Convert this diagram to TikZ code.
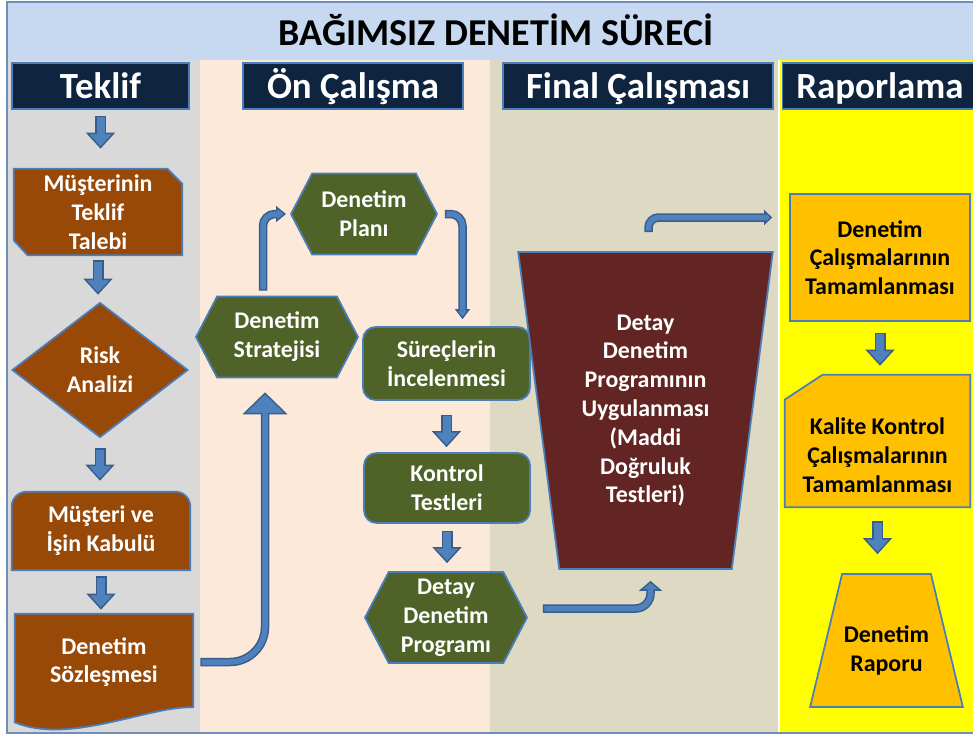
\documentclass[tikz,border=0pt]{standalone}
\usepackage{fontspec}
\setmainfont{Carlito}
\usepackage{tikz}
\usetikzlibrary{positioning, arrows.meta, calc, backgrounds, shapes.geometric, shapes.symbols}
\definecolor{navy}{HTML}{0F243E}
\definecolor{hdline}{HTML}{4A7EBB}
\definecolor{shapeline}{HTML}{4A7EBB}
\definecolor{brownfill}{HTML}{984807}
\definecolor{greenfill}{HTML}{4F6228}
\definecolor{redfill}{HTML}{632523}
\definecolor{orangefill}{HTML}{FFC000}
\definecolor{arrowfill}{HTML}{4F81BD}
\definecolor{arrowline}{HTML}{385D8A}
\definecolor{titleblue}{HTML}{C6D9F1}
\definecolor{colgray}{HTML}{D9D9D9}
\definecolor{colpeach}{HTML}{FDE9D9}
\definecolor{coltan}{HTML}{DDD9C3}
\definecolor{colyellow}{HTML}{FFFF00}
\definecolor{frameline}{HTML}{6F8FBA}
\newcommand{\boxfont}{\fontsize{13.6}{16.4}\selectfont\bfseries}

\begin{document}
\begin{tikzpicture}[x=0.02cm, y=-0.02cm,
    header/.style={draw=hdline, line width=1.1pt, fill=navy, text=white,
        minimum height=0.92cm, inner sep=0pt, text height=0.5cm, text depth=0cm,
        font=\fontsize{21}{25}\selectfont\bfseries},
    box/.style={align=center, text=white, font=\boxfont, inner sep=0pt},
    brownbox/.style={box, fill=brownfill, draw=shapeline, line width=1pt},
    greenbox/.style={box, fill=greenfill, draw=shapeline, line width=1pt},
    orangebox/.style={box, text=black, fill=orangefill, draw=shapeline, line width=1pt},
    hexa/.style={signal, signal to=east and west, signal pointer angle=125},
    blockout/.style={draw=arrowline, line width=0.22cm,
        -{Triangle[width=0.58cm, length=0.32cm, line width=0.8pt, fill=arrowfill]}},
    blockin/.style={draw=arrowfill, line width=0.16cm},
    bentout/.style 2 args={draw=arrowline, line width=0.17cm,
        -{Triangle[width=#1, length=#2, line width=0.8pt, fill=arrowfill]}},
    bentin/.style={draw=arrowfill, line width=0.11cm}]
    \useasboundingbox (0,0) rectangle (973,735);

    \node (title) [font=\fontsize{21.6}{26}\selectfont\bfseries, text height=0.52cm, text depth=0cm] at (496,32) {BAĞIMSIZ DENETİM SÜRECİ};
    \node (teklifhd) [header, minimum width=3.54cm] at (100.5,86) {Teklif};
    \node (onhd) [header, minimum width=4.4cm] at (353,86) {Ön Çalışma};
    \node (finalhd) [header, minimum width=5.4cm] at (638,86) {Final Çalışması};
    \node (raporhd) [header, minimum width=3.9cm] at (880,86) {Raporlama};

    % Teklif
    \node (talep) [box, minimum width=3.36cm, minimum height=1.72cm] at (98,212) {Müşterinin\\Teklif\\Talebi};
    \node (risk) [brownbox, diamond, minimum width=3.52cm, minimum height=2.7cm] at (100,370) {Risk\\Analizi};
    \node (kabul) [box, minimum width=3.56cm, minimum height=1.56cm] at (101,531) {Müşteri ve\\İşin Kabulü};
    \node (sozlesme) [box, minimum width=3.56cm, minimum height=1.92cm] at (104,662) {Denetim\\Sözleşmesi};

    % On calisma
    \node (strateji) [greenbox, hexa, minimum width=3.24cm, minimum height=1.62cm] at (277,337) {Denetim\\Stratejisi};
    \node (plan) [greenbox, hexa, minimum width=2.92cm, minimum height=1.62cm] at (364,214) {Denetim\\Planı};
    \node (surec) [greenbox, rounded corners=0.25cm, minimum width=3.34cm, minimum height=1.46cm] at (446.5,363.5) {Süreçlerin\\İncelenmesi};
    \node (kontrol) [greenbox, rounded corners=0.25cm, minimum width=3.32cm, minimum height=1.4cm] at (447,488) {Kontrol\\Testleri};
    \node (detay) [greenbox, hexa, minimum width=3.24cm, minimum height=1.82cm] at (446,617.5) {Detay\\Denetim\\Programı};

    % Final calismasi
    \node (uyg) [box, trapezium, shape border rotate=180, trapezium left angle=81, trapezium right angle=81,
        trapezium stretches=true, fill=redfill, draw=shapeline, line width=1pt,
        minimum width=5.1cm, minimum height=6.34cm] at (645.5,410.5)
        {Detay\\Denetim\\Programının\\Uygulanması\\(Maddi\\Doğruluk\\Testleri)};

    % Raporlama
    \node (tamam) [orangebox, minimum width=3.6cm, minimum height=2.54cm] at (880,257.5) {Denetim\\Çalışmalarının\\Tamamlanması};
    \node (kalite) [box, text=black, minimum width=3.7cm, minimum height=2.08cm] at (877.5,455) {Kalite Kontrol\\Çalışmalarının\\Tamamlanması};
    \node (rapor) [orangebox, trapezium, trapezium left angle=66, trapezium right angle=66, trapezium stretches=true,
        minimum width=3.08cm, minimum height=2.66cm, text height=1.3cm] at (886.5,640.5) {Denetim\\Raporu};

    \path [blockout]
    (teklifhd) edge [shorten <=0.12cm, shorten >=0.4cm] (teklifhd.south |- talep.north)
    (talep) edge [shorten <=0.1cm, shorten >=0.14cm] (talep.south |- risk.north)
    (risk) edge [shorten <=0.2cm, shorten >=0.22cm] (risk.south |- kabul.north)
    (kabul) edge [shorten <=0.12cm, shorten >=0.08cm] (kabul.south |- sozlesme.north)
    (surec) edge [shorten <=0.28cm, shorten >=0.1cm] (surec.south |- kontrol.north)
    (kontrol) edge [shorten <=0.14cm, shorten >=0.16cm] (kontrol.south |- detay.north)
    (tamam) edge [shorten <=0.22cm, shorten >=0.74cm] (tamam.south |- kalite.north)
    (kalite) edge [shorten <=0.28cm, shorten >=0.38cm] (kalite.south |- rapor.north);
    \path [blockin]
    (teklifhd) edge [shorten <=0.15cm, shorten >=0.68cm] (teklifhd.south |- talep.north)
    (talep) edge [shorten <=0.13cm, shorten >=0.42cm] (talep.south |- risk.north)
    (risk) edge [shorten <=0.23cm, shorten >=0.5cm] (risk.south |- kabul.north)
    (kabul) edge [shorten <=0.15cm, shorten >=0.36cm] (kabul.south |- sozlesme.north)
    (surec) edge [shorten <=0.31cm, shorten >=0.38cm] (surec.south |- kontrol.north)
    (kontrol) edge [shorten <=0.17cm, shorten >=0.44cm] (kontrol.south |- detay.north)
    (tamam) edge [shorten <=0.25cm, shorten >=1.02cm] (tamam.south |- kalite.north)
    (kalite) edge [shorten <=0.31cm, shorten >=0.66cm] (kalite.south |- rapor.north);

    \draw [bentout={0.9cm}{0.44cm}, rounded corners=0.7cm, shorten <=0.14cm]
        (sozlesme.east) -| ($(strateji.south)+(-12,14)$);
    \draw [bentin, rounded corners=0.7cm, shorten <=0.17cm, shorten >=0.4cm]
        (sozlesme.east) -| ($(strateji.south)+(-12,14)$);
    \draw [bentout={0.32cm}{0.2cm}, rounded corners=0.24cm, shorten >=0.08cm]
        ($(strateji.north)+(-14,-5)$) |- (plan.west);
    \draw [bentin, rounded corners=0.24cm, shorten <=0.03cm, shorten >=0.25cm]
        ($(strateji.north)+(-14,-5)$) |- (plan.west);
    \draw [bentout={0.3cm}{0.2cm}, rounded corners=0.24cm]
        ($(plan.east)+(7,0)$) -| ($(surec.north)+(16,-7)$);
    \draw [bentin, rounded corners=0.24cm, shorten <=0.03cm, shorten >=0.17cm]
        ($(plan.east)+(7,0)$) -| ($(surec.north)+(16,-7)$);
    \draw [bentout={0.46cm}{0.2cm}, rounded corners=0.3cm]
        ($(detay.east)+(15,-9)$) -| ($(uyg.south)+(5,11)$);
    \draw [bentin, rounded corners=0.3cm, shorten <=0.03cm, shorten >=0.17cm]
        ($(detay.east)+(15,-9)$) -| ($(uyg.south)+(5,11)$);
    \draw [bentout={0.3cm}{0.16cm}, rounded corners=0.2cm]
        ($(uyg.north)+(3,-19)$) |- ($(tamam.west)+(-17,-40)$);
    \draw [bentin, rounded corners=0.2cm, shorten <=0.03cm, shorten >=0.13cm]
        ($(uyg.north)+(3,-19)$) |- ($(tamam.west)+(-17,-40)$);

    \begin{scope}[on background layer]
        \fill [white] (0,0) rectangle (973,735);
        \fill [titleblue] (7,2) rectangle (973,60);
        \fill [colgray] (7,60) rectangle (200,733);
        \fill [colpeach] (200,60) rectangle (490,733);
        \fill [coltan] (490,60) rectangle (778,733);
        \fill [colyellow] (780,60) rectangle (973,733);
        \draw [frameline, line width=0.8pt] (7,2) rectangle (990,733);
        % shapes with cut or bent edges
        \filldraw [fill=brownfill, draw=shapeline, line width=1pt]
            (talep.north west) -- ($(talep.north east)+(-15,0)$) -- ($(talep.north east)+(0,15)$)
            -- (talep.south east) -- ($(talep.south west)+(14,0)$) -- ($(talep.south west)+(0,-15)$) -- cycle;
        \filldraw [fill=brownfill, draw=shapeline, line width=1pt]
            (kabul.south west) -- ($(kabul.north west)+(0,15)$) arc [start angle=180, end angle=90, radius=0.3cm]
            -- ($(kabul.north east)+(-15,0)$) arc [start angle=90, end angle=0, radius=0.3cm]
            -- (kabul.south east) -- cycle;
        \filldraw [fill=brownfill, draw=shapeline, line width=1pt]
            (sozlesme.north west) -- (sozlesme.north east) -- ($(sozlesme.south east)+(0,-3)$)
            .. controls ($(sozlesme.south west)+(135,-5)$) and ($(sozlesme.south west)+(55,35)$) .. ($(sozlesme.south west)+(0,12)$) -- cycle;
        \filldraw [fill=orangefill, draw=shapeline, line width=1pt]
            ($(kalite.north west)+(0,-3)$) -- ($(kalite.north west)+(38,-28)$) -- ($(kalite.north east)+(0,-28)$)
            -- (kalite.south east) -- (kalite.south west) -- cycle;
    \end{scope}
\end{tikzpicture}
\end{document}
